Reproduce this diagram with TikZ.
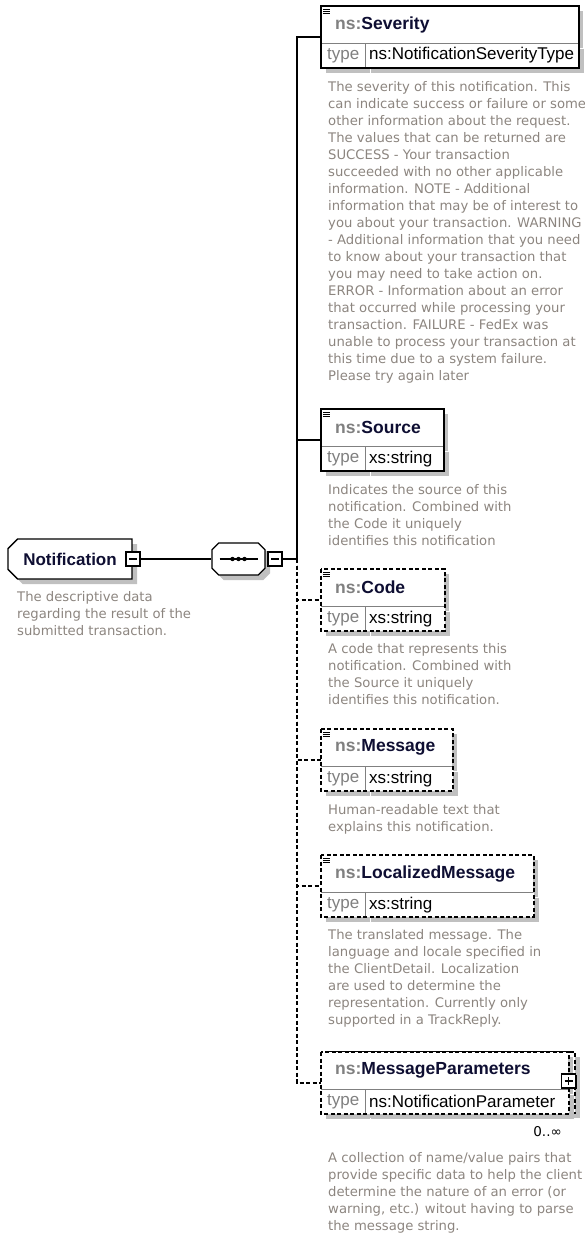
\documentclass[tikz,border=0pt]{standalone}
\usepackage{fontspec}
\setmainfont{Liberation Sans}
\newfontfamily\docfont{DejaVu Sans}
\usetikzlibrary{positioning,calc,shapes.misc,shadows}

\definecolor{nsgray}{RGB}{128,128,128}
\definecolor{docgray}{RGB}{140,133,127}
\definecolor{namecol}{RGB}{14,14,50}
\definecolor{shadowgray}{RGB}{192,192,192}

\newcommand{\nsname}[1]{{\color{nsgray}ns:}{\color{namecol}#1}}

\tikzset{
	boxshadow/.style={drop shadow={shadow xshift=5pt, shadow yshift=-5pt, fill=shadowgray, opacity=1}},
	ehead/.style={anchor=north west, fill=white, boxshadow, minimum height=37pt, inner xsep=14pt, inner ysep=0pt, align=left, font=\fontsize{17.5}{20}\selectfont\bfseries},
	ekey/.style={anchor=north west, fill=white, boxshadow, minimum width=44pt, minimum height=24pt, inner sep=0pt, text=nsgray, font=\fontsize{17}{19}\selectfont},
	evalue/.style={anchor=north west, fill=white, boxshadow, minimum height=24pt, inner xsep=3.5pt, inner ysep=0pt, align=left, font=\fontsize{17}{19}\selectfont},
	divider/.style={draw=nsgray, line width=0.8pt},
	frame/.style={draw=black, line width=1.4pt},
	optframe/.style={frame, dash pattern=on 4pt off 2.5pt},
	conn/.style={draw=black, line width=1.3pt},
	optconn/.style={conn, dash pattern=on 4pt off 2.5pt},
	docmark/.style={line width=0.9pt},
	doc/.style={anchor=north west, inner sep=0pt, align=left, text=docgray, font=\docfont\fontsize{13.2}{17}\selectfont},
	toggle/.style={draw=black, line width=1.2pt, fill=white, minimum size=14pt, inner sep=0pt, drop shadow={shadow xshift=1.2pt, shadow yshift=-1.2pt, fill=black, opacity=1}},
	minus/.style={toggle, path picture={\draw[line width=1.1pt] ([xshift=3pt]path picture bounding box.west) -- ([xshift=-3pt]path picture bounding box.east);}},
	plus/.style={toggle, path picture={\draw[line width=1.1pt] ([xshift=3pt]path picture bounding box.west) -- ([xshift=-3pt]path picture bounding box.east) ([yshift=3pt]path picture bounding box.south) -- ([yshift=-3pt]path picture bounding box.north);}},
	rootbox/.style={chamfered rectangle, chamfered rectangle corners={north west, south west}, chamfered rectangle xsep=6pt, draw=black, line width=1.4pt, fill=white, boxshadow, minimum width=124pt, minimum height=40pt, text=namecol, font=\fontsize{17}{19}\selectfont\bfseries},
	seqbox/.style={chamfered rectangle, chamfered rectangle xsep=11pt, draw=black, line width=1.2pt, fill=white, boxshadow, minimum width=53pt, minimum height=32pt},
}

\begin{document}
\begin{tikzpicture}[x=1pt, y=-1pt]
	\useasboundingbox (0,0) rectangle (584,1234);

	% root element and sequence
	\node[rootbox] (notif) at (70,559) {Notification};
	\node[minus] (notifminus) at (133,559) {};
	\node[doc] (notifdoc) at (17,591) {The descriptive data\\regarding the result of the\\submitted transaction.};

	\node[seqbox] (seq) at (238.5,559) {};
	\draw[line width=1.1pt] ([xshift=-19pt]seq.center) -- ([xshift=19pt]seq.center);
	\fill ([xshift=-6pt]seq.center) circle (2.2pt) (seq.center) circle (2.2pt) ([xshift=6pt]seq.center) circle (2.2pt);
	\node[minus] (seqminus) at (275,559) {};
	\coordinate (bus) at (297,559);

	% Severity
	\node[ehead, text width=229pt] (sev) at (321,6) {\nsname{Severity}};
	\node[ekey] (sevkey) at (sev.south west) {type};
	\node[evalue, text width=206pt] (sevtype) at (sevkey.north east) {ns:NotificationSeverityType};
	\draw[divider] (sev.south west) -- (sev.south east);
	\draw[divider] (sevkey.north east) -- (sevkey.south east);
	\draw[frame] (sev.north west) rectangle (sevtype.south east);
	\draw[docmark] ([shift={(2,3)}]sev.north west) -- +(7,0) ++(0,2.2) -- +(7,0) ++(0,2.2) -- +(7,0);
	\node[doc] (sevdoc) at (328,81) {The severity of this notification. This\\can indicate success or failure or some\\other information about the request.\\The values that can be returned are\\SUCCESS - Your transaction\\succeeded with no other applicable\\information. NOTE - Additional\\information that may be of interest to\\you about your transaction. WARNING\\- Additional information that you need\\to know about your transaction that\\you may need to take action on.\\ERROR - Information about an error\\that occurred while processing your\\transaction. FAILURE - FedEx was\\unable to process your transaction at\\this time due to a system failure.\\Please try again later};

	% Source
	\node[ehead, text width=94pt] (src) at (321,409) {\nsname{Source}};
	\node[ekey] (srckey) at (src.south west) {type};
	\node[evalue, text width=71pt] (srctype) at (srckey.north east) {xs:string};
	\draw[divider] (src.south west) -- (src.south east);
	\draw[divider] (srckey.north east) -- (srckey.south east);
	\draw[frame] (src.north west) rectangle (srctype.south east);
	\draw[docmark] ([shift={(2,3)}]src.north west) -- +(7,0) ++(0,2.2) -- +(7,0) ++(0,2.2) -- +(7,0);
	\node[doc] (srcdoc) at (328,484) {Indicates the source of this\\notification. Combined with\\the Code it uniquely\\identifies this notification};

	% Code
	\node[ehead, text width=95pt] (code) at (321,569) {\nsname{Code}};
	\node[ekey] (codekey) at (code.south west) {type};
	\node[evalue, text width=72pt] (codetype) at (codekey.north east) {xs:string};
	\draw[divider] (code.south west) -- (code.south east);
	\draw[divider] (codekey.north east) -- (codekey.south east);
	\draw[optframe] (code.north west) rectangle (codetype.south east);
	\draw[docmark] ([shift={(2,3)}]code.north west) -- +(7,0) ++(0,2.2) -- +(7,0) ++(0,2.2) -- +(7,0);
	\node[doc] (codedoc) at (328,643) {A code that represents this\\notification. Combined with\\the Source it uniquely\\identifies this notification.};

	% Message
	\node[ehead, text width=103pt] (msg) at (321,729) {\nsname{Message}};
	\node[ekey] (msgkey) at (msg.south west) {type};
	\node[evalue, text width=80pt] (msgtype) at (msgkey.north east) {xs:string};
	\draw[divider] (msg.south west) -- (msg.south east);
	\draw[divider] (msgkey.north east) -- (msgkey.south east);
	\draw[optframe] (msg.north west) rectangle (msgtype.south east);
	\draw[docmark] ([shift={(2,3)}]msg.north west) -- +(7,0) ++(0,2.2) -- +(7,0) ++(0,2.2) -- +(7,0);
	\node[doc] (msgdoc) at (328,804) {Human-readable text that\\explains this notification.};

	% LocalizedMessage
	\node[ehead, text width=184pt] (loc) at (321,855) {\nsname{LocalizedMessage}};
	\node[ekey] (lockey) at (loc.south west) {type};
	\node[evalue, text width=161pt] (loctype) at (lockey.north east) {xs:string};
	\draw[divider] (loc.south west) -- (loc.south east);
	\draw[divider] (lockey.north east) -- (lockey.south east);
	\draw[optframe] (loc.north west) rectangle (loctype.south east);
	\draw[docmark] ([shift={(2,3)}]loc.north west) -- +(7,0) ++(0,2.2) -- +(7,0) ++(0,2.2) -- +(7,0);
	\node[doc] (locdoc) at (328,929) {The translated message. The\\language and locale specified in\\the ClientDetail. Localization\\are used to determine the\\representation. Currently only\\supported in a TrackReply.};

	% MessageParameters (0..unbounded)
	\fill[shadowgray] (333,1057) rectangle (580,1118);
	\draw[optframe, fill=white] (328,1052) rectangle (575,1113);
	\node[ehead, text width=219pt, drop shadow={opacity=0}] (mp) at (321,1052) {\nsname{MessageParameters}};
	\node[ekey] (mpkey) at (mp.south west) {type};
	\node[evalue, text width=196pt] (mptype) at (mpkey.north east) {ns:NotificationParameter};
	\draw[divider] (mp.south west) -- (mp.south east);
	\draw[divider] (mpkey.north east) -- (mpkey.south east);
	\draw[optframe] (mp.north west) rectangle (mptype.south east);
	\node[plus] (mpplus) at (568.5,1081) {};
	\node[anchor=base east, inner sep=0pt, font=\docfont\fontsize{13.5}{16}\selectfont] (mpocc) at (562,1136) {0..∞};
	\node[doc] (mpdoc) at (328,1152) {A collection of name/value pairs that\\provide specific data to help the client\\determine the nature of an error (or\\warning, etc.) witout having to parse\\the message string.};

	% connectors
	\draw[conn] (notifminus.east) -- (seq.west);
	\draw[conn] (seqminus.east) -- (bus);
	\draw[conn] (bus) |- ($(sev.north west)!.5!(sevkey.south west)$);
	\draw[conn] (bus) |- ($(src.north west)!.5!(srckey.south west)$);
	\draw[optconn] (bus) |- ($(code.north west)!.5!(codekey.south west)$);
	\draw[optconn] (bus) |- ($(msg.north west)!.5!(msgkey.south west)$);
	\draw[optconn] (bus) |- ($(loc.north west)!.5!(lockey.south west)$);
	\draw[optconn] (bus) |- ($(mp.north west)!.5!(mpkey.south west)$);
\end{tikzpicture}
\end{document}
